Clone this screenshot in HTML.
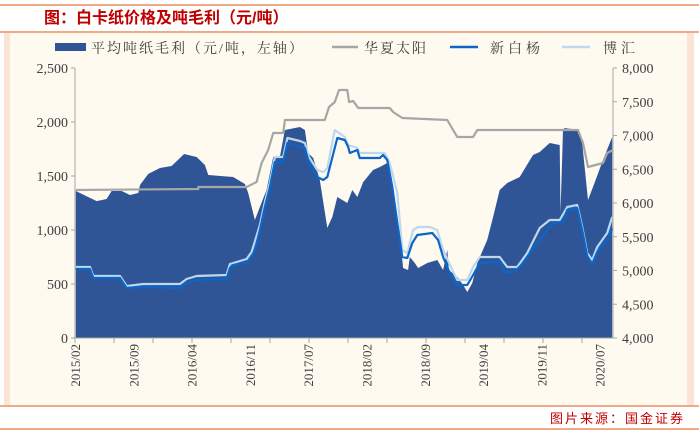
<!DOCTYPE html>
<html><head><meta charset="utf-8"><style>
body{margin:0;width:699px;height:433px;background:#fff;overflow:hidden;font-family:"Liberation Sans","Noto Sans CJK SC",sans-serif}
svg{display:block}
</style></head><body>
<svg id="c" width="699" height="433" xmlns="http://www.w3.org/2000/svg">
<rect x="0" y="0" width="699" height="433" fill="#fff"/>
<line x1="0" y1="5" x2="699" y2="5" stroke="#e8793a" stroke-width="1.2"/>
<text x="44" y="23" font-size="16" font-weight="bold" fill="#c00000" font-family="'Liberation Sans','Noto Sans CJK SC',sans-serif">图：白卡纸价格及吨毛利（元/吨）</text>
<line x1="0" y1="32" x2="699" y2="32" stroke="#e8793a" stroke-width="1.2"/>
<rect x="4" y="33" width="690" height="372" fill="#fbe4d6"/>
<rect x="10" y="33" width="677" height="372" fill="#fffaf0"/>
<line x1="0" y1="406" x2="699" y2="406" stroke="#e8793a" stroke-width="1.2"/>
<text x="685" y="423" text-anchor="end" font-size="13" fill="#c00000" letter-spacing="2" font-family="'Liberation Sans','Noto Sans CJK SC',sans-serif">图片来源：国金证券</text>
<line x1="0" y1="429" x2="699" y2="429" stroke="#e8793a" stroke-width="1.2"/>
<g id="plot"></g>
<g id="legend" font-size="14" fill="#404040" font-family="'Liberation Serif','Noto Serif CJK SC',serif">
<rect x="55" y="43" width="31" height="8" fill="#2f5597"/>
<text x="91" y="53" letter-spacing="2">平均吨纸毛利（元/吨，左轴）</text>
<line x1="332" y1="47" x2="358" y2="47" stroke="#a6a6a6" stroke-width="2.5"/>
<text x="364" y="53" letter-spacing="2">华夏太阳</text>
<line x1="450" y1="47" x2="478" y2="47" stroke="#0a66c8" stroke-width="2.5"/>
<text x="490" y="53" letter-spacing="4">新白杨</text>
<line x1="562" y1="47" x2="590" y2="47" stroke="#bdd7ee" stroke-width="2.5"/>
<text x="603" y="53" letter-spacing="4">博汇</text>
</g>
</svg>
<script>
const xTickLabels=["2015/02","2015/09","2016/04","2016/11","2017/07","2018/02","2018/09","2019/04","2019/11","2020/07"];
const xTickMonths=[0,7,14,21,28,35,42,49,56,63];
const leftTicks=[0,500,1000,1500,2000,2500];
const rightTicks=[4000,4500,5000,5500,6000,6500,7000,7500,8000];
const marginT=[0.1,2.6,3.8,4.4,5.6,6.6,7.6,7.8,8.8,10.2,11.6,13.1,14.6,15.6,16.0,19.0,20.4,20.8,21.6,22.2,23.0,23.8,24.6,25.2,27.0,27.6,28.0,28.6,29.4,30.3,30.9,31.5,32.7,33.3,33.9,34.6,35.8,36.6,37.5,37.8,38.2,38.7,39.3,39.4,40.0,40.2,40.8,41.2,42.3,43.5,44.2,44.7,44.9,45.9,46.6,47.1,47.7,48.3,49.5,50.2,51.0,51.9,53.4,55.0,55.8,57.0,58.2,58.3,58.6,58.8,60.4,60.9,61.6,62.2,63.4,64.5];
const marginV=[1361,1268,1287,1361,1361,1324,1343,1417,1519,1574,1593,1704,1676,1602,1509,1491,1426,1343,1093,1213,1370,1676,1676,1926,1954,1926,1713,1667,1463,1019,1120,1306,1250,1370,1306,1444,1556,1583,1620,1528,1343,1120,722,648,630,750,694,648,694,722,630,815,630,565,491,426,509,694,907,1120,1370,1435,1491,1694,1722,1806,1787,1157,1926,1944,1926,1806,1278,1398,1648,1861];
const huaxiaT=[0.1,14.8,14.8,20.6,21.8,22.4,23.2,23.8,25.0,25.2,30.0,30.5,31.2,31.7,32.7,32.9,33.4,34.0,37.8,38.2,39.3,44.7,45.4,45.9,47.8,48.3,60.4,61.0,61.6,63.4,63.9,64.6];
const huaxiaV=[6193,6207,6237,6237,6311,6593,6785,7037,7037,7230,7230,7422,7496,7674,7674,7496,7511,7407,7407,7348,7259,7230,7081,6978,6978,7081,7081,6889,6533,6593,6741,6785];
const xbyT=[0.1,1.8,2.2,5.4,6.2,8.2,12.6,13.4,14.6,18.2,18.6,19.0,20.6,21.2,21.6,22.2,22.8,23.4,24.0,25.0,25.5,27.0,27.6,28.1,29.1,29.8,30.3,31.5,32.4,32.8,33.0,33.9,34.2,36.6,37.0,37.5,38.1,38.7,39.3,39.9,40.5,41.1,42.9,43.6,44.2,45.0,45.9,47.1,47.8,48.6,51.0,51.6,52.8,53.8,55.5,56.7,57.3,58.6,59.1,60.3,60.9,61.5,62.1,62.7,63.9,64.5];
const xbyV=[5022,5022,4889,4889,4741,4756,4741,4815,4859,4874,5037,5081,5111,5200,5304,5600,5941,6237,6607,6607,6889,6830,6815,6593,6385,6341,6385,6963,6933,6830,6741,6785,6667,6667,6711,6637,6237,5704,5200,5185,5407,5526,5556,5452,5200,4963,4785,4785,4933,5111,5126,4978,4978,5111,5407,5600,5689,5719,5896,5926,5600,5215,5096,5274,5452,5630];
const bohuiT=[0.1,1.8,2.2,5.4,6.2,8.2,12.6,13.4,14.6,18.2,18.6,20.6,21.2,22.2,22.8,23.4,24.0,25.0,25.5,27.0,27.6,28.1,29.1,29.8,30.3,31.2,32.4,32.8,33.9,34.2,37.2,37.8,38.7,39.3,39.9,40.6,41.2,42.6,43.5,44.2,45.3,45.9,47.1,47.8,48.6,51.0,51.9,53.1,54.3,55.8,57.0,58.2,59.1,60.3,60.9,61.5,62.1,62.7,63.9,64.5];
const bohuiV=[5052,5052,4919,4919,4770,4800,4800,4874,4919,4933,5096,5170,5274,5674,6015,6311,6681,6681,6963,6919,6889,6681,6489,6459,6519,7081,6978,6859,6815,6741,6741,6593,6148,5304,5259,5600,5644,5644,5600,5304,5007,4859,4859,5052,5200,5200,5052,5052,5259,5630,5748,5748,5941,5970,5644,5259,5156,5348,5556,5793];

const X0=75,X1=613,Y0=338,Y1=68,TMAX=64.6;
const xs=t=>X0+(X1-X0)*t/TMAX;
const yl=v=>Y0-(Y0-Y1)*v/2500;
const yr=v=>Y0-(Y0-Y1)*(v-4000)/4000;
const NS="http://www.w3.org/2000/svg";
const plot=document.getElementById('plot');
function mk(tag,attrs){const e=document.createElementNS(NS,tag);for(const k in attrs)e.setAttribute(k,attrs[k]);plot.appendChild(e);return e;}

// area
let d=`M${xs(marginT[0])},${Y0}`;
marginT.forEach((t,i)=>{d+=`L${xs(t).toFixed(1)},${yl(marginV[i]).toFixed(1)}`;});
d+=`L${xs(marginT[marginT.length-1])},${Y0}Z`;
const area=mk('path',{d:d,fill:'#2f5597'});



function line(T,V,color,name){
  const p=T.map((t,i)=>`${xs(t).toFixed(1)},${yr(V[i]).toFixed(1)}`).join(' ');
  const el=mk('polyline',{points:p,fill:'none',stroke:color,'stroke-width':2.2,'stroke-linejoin':'round'});
  
  
}
line(huaxiaT,huaxiaV,'#a6a6a6','huaxia-line');
line(bohuiT,bohuiV,'#bdd7ee','bohui-line');
line(xbyT,xbyV,'#0a66c8','xinbaiyang-line');

// axes
const ax=mk('g',{stroke:'#a6a6a6','stroke-width':1});


function al(x1,y1,x2,y2){const l=document.createElementNS(NS,'line');l.setAttribute('x1',x1);l.setAttribute('y1',y1);l.setAttribute('x2',x2);l.setAttribute('y2',y2);ax.appendChild(l);}
al(X0,Y1,X0,Y0);al(X1,Y1,X1,Y0);al(X0,Y0,X1,Y0);
for(let x=X0;x<=X1+1;x+=39)al(x,Y0,x,Y0+5);
const tf="'Liberation Serif',serif";
leftTicks.forEach(v=>{
  al(X0-4,yl(v),X0,yl(v));
  const t=mk('text',{x:X0-7,y:yl(v)+5,'text-anchor':'end','font-size':14,fill:'#404040','font-family':tf});
  t.textContent=v.toLocaleString('en-US');
  
  
});
rightTicks.forEach(v=>{
  al(X1,yr(v),X1+4,yr(v));
  const t=mk('text',{x:X1+9,y:yr(v)+5,'text-anchor':'start','font-size':14,fill:'#404040','font-family':tf});
  t.textContent=v.toLocaleString('en-US');
  
  
});
xTickLabels.forEach((s,i)=>{
  const x=xs(xTickMonths[i]);
  const t=mk('text',{x:0,y:0,'text-anchor':'end','font-size':13,fill:'#404040','font-family':tf,transform:`translate(${x+5},${Y0+6}) rotate(-90)`});
  t.textContent=s;
  
  
});
</script>
</body></html>
